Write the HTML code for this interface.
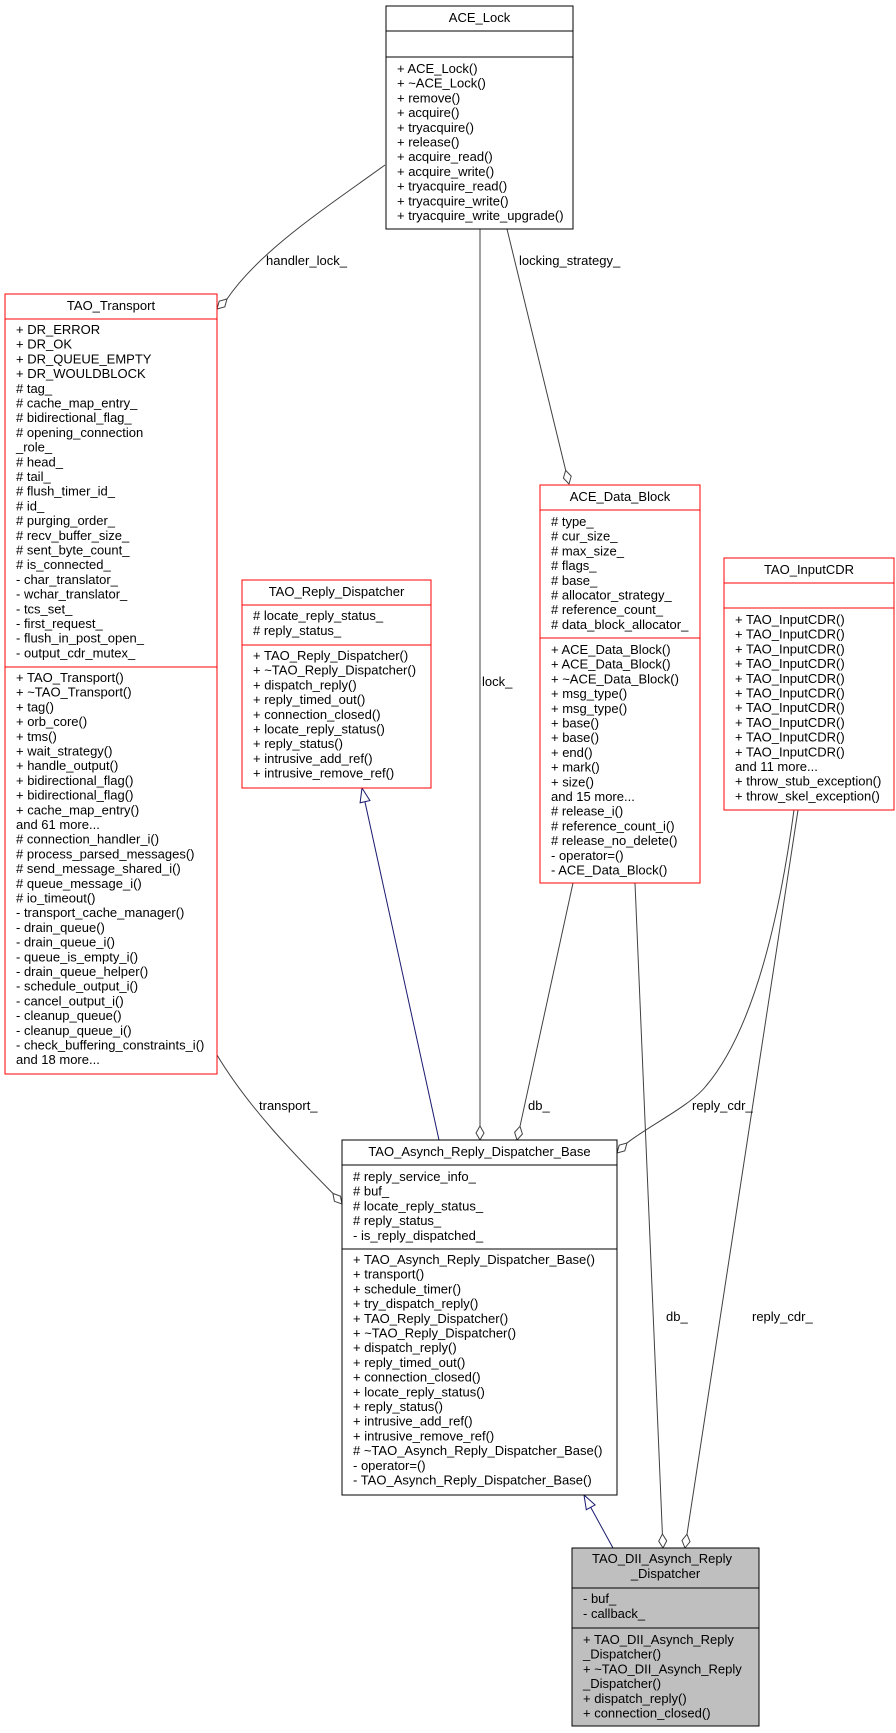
<!DOCTYPE html>
<html><head><meta charset="utf-8"><style>
html,body{margin:0;padding:0;background:#fff;}
svg{display:block;}
text{font-family:"Liberation Sans",sans-serif;font-size:13px;fill:#000;}
.t{text-anchor:middle;}
</style></head><body>
<svg width="896" height="1733" viewBox="0 0 896 1733" xmlns="http://www.w3.org/2000/svg">
<g fill="none" stroke="#404040" stroke-width="1">
<path d="M385,165 C330,205 260,250 227,299"/>
<line x1="480" y1="229" x2="480" y2="1126"/>
<line x1="507" y1="229" x2="565.7" y2="470.4"/>
<line x1="573" y1="883" x2="520" y2="1126.3"/>
<path d="M794,810 C775,950 745,1040 706,1086 C690,1106 650,1125 627,1143"/>
<path d="M217,1055 C250,1110 300,1160 332.9,1193.4"/>
<line x1="635" y1="883" x2="662.4" y2="1534"/>
<line x1="798" y1="810" x2="687" y2="1534.2"/>
</g>
<g fill="#fff" stroke="#404040" stroke-width="1">
<polygon points="217,309 224.8,306.8 227,299 219.2,301.2"/>
<polygon points="480,1140 484,1133 480,1126 476,1133"/>
<polygon points="569,484 571.2,476.2 565.7,470.4 563.4,478.1"/>
<polygon points="517,1140 522.4,1134 520,1126.3 514.6,1132.3"/>
<polygon points="617,1153 624.8,1150.8 627,1143 619.2,1145.2"/>
<polygon points="342,1204 340.4,1196.1 332.9,1193.4 334.4,1201.3"/>
<polygon points="663,1548 666.7,1540.8 662.4,1534 658.7,1541.2"/>
<polygon points="685,1548 690,1541.7 687,1534.2 682,1540.5"/>
</g>
<g stroke="#191970" stroke-width="1">
<line x1="439" y1="1140" x2="365" y2="802"/>
<polygon fill="#fff" points="362,788 369.9,800.6 360.1,802.8"/>
<line x1="613" y1="1548" x2="590.7" y2="1507.3"/>
<polygon fill="#fff" points="584,1495 595.1,1504.9 586.3,1509.7"/>
</g>
<text x="266" y="265">handler_lock_</text>
<text x="519" y="265">locking_strategy_</text>
<text x="482" y="686">lock_</text>
<text x="259" y="1110">transport_</text>
<text x="528" y="1110">db_</text>
<text x="692" y="1110">reply_cdr_</text>
<text x="666" y="1321">db_</text>
<text x="752" y="1321">reply_cdr_</text>

<!-- ACE_Lock -->
<g fill="#fff" stroke="#000"><rect x="386" y="6" width="187" height="223"/><line x1="386" y1="31" x2="573" y2="31"/><line x1="386" y1="57" x2="573" y2="57"/></g>
<text class="t" x="479.5" y="22">ACE_Lock</text>
<text x="397" y="73">+ ACE_Lock()</text>
<text x="397" y="87.7">+ ~ACE_Lock()</text>
<text x="397" y="102.4">+ remove()</text>
<text x="397" y="117.1">+ acquire()</text>
<text x="397" y="131.8">+ tryacquire()</text>
<text x="397" y="146.5">+ release()</text>
<text x="397" y="161.2">+ acquire_read()</text>
<text x="397" y="175.9">+ acquire_write()</text>
<text x="397" y="190.6">+ tryacquire_read()</text>
<text x="397" y="205.3">+ tryacquire_write()</text>
<text x="397" y="220">+ tryacquire_write_upgrade()</text>

<!-- TAO_Transport -->
<g fill="#fff" stroke="#f00"><rect x="5" y="294" width="212" height="780"/><line x1="5" y1="319" x2="217" y2="319"/><line x1="5" y1="667" x2="217" y2="667"/></g>
<text class="t" x="111" y="310">TAO_Transport</text>
<g>
<text x="16" y="334">+ DR_ERROR</text>
<text x="16" y="348.7">+ DR_OK</text>
<text x="16" y="363.4">+ DR_QUEUE_EMPTY</text>
<text x="16" y="378.1">+ DR_WOULDBLOCK</text>
<text x="16" y="392.8"># tag_</text>
<text x="16" y="407.5"># cache_map_entry_</text>
<text x="16" y="422.2"># bidirectional_flag_</text>
<text x="16" y="436.9"># opening_connection</text>
<text x="16" y="451.6">_role_</text>
<text x="16" y="466.3"># head_</text>
<text x="16" y="481"># tail_</text>
<text x="16" y="495.7"># flush_timer_id_</text>
<text x="16" y="510.4"># id_</text>
<text x="16" y="525.1"># purging_order_</text>
<text x="16" y="539.8"># recv_buffer_size_</text>
<text x="16" y="554.5"># sent_byte_count_</text>
<text x="16" y="569.2"># is_connected_</text>
<text x="16" y="583.9">- char_translator_</text>
<text x="16" y="598.6">- wchar_translator_</text>
<text x="16" y="613.3">- tcs_set_</text>
<text x="16" y="628">- first_request_</text>
<text x="16" y="642.7">- flush_in_post_open_</text>
<text x="16" y="657.4">- output_cdr_mutex_</text>
<text x="16" y="682">+ TAO_Transport()</text>
<text x="16" y="696.7">+ ~TAO_Transport()</text>
<text x="16" y="711.4">+ tag()</text>
<text x="16" y="726.1">+ orb_core()</text>
<text x="16" y="740.8">+ tms()</text>
<text x="16" y="755.5">+ wait_strategy()</text>
<text x="16" y="770.2">+ handle_output()</text>
<text x="16" y="784.9">+ bidirectional_flag()</text>
<text x="16" y="799.6">+ bidirectional_flag()</text>
<text x="16" y="814.3">+ cache_map_entry()</text>
<text x="16" y="829">and 61 more...</text>
<text x="16" y="843.7"># connection_handler_i()</text>
<text x="16" y="858.4"># process_parsed_messages()</text>
<text x="16" y="873.1"># send_message_shared_i()</text>
<text x="16" y="887.8"># queue_message_i()</text>
<text x="16" y="902.5"># io_timeout()</text>
<text x="16" y="917.2">- transport_cache_manager()</text>
<text x="16" y="931.9">- drain_queue()</text>
<text x="16" y="946.6">- drain_queue_i()</text>
<text x="16" y="961.3">- queue_is_empty_i()</text>
<text x="16" y="976">- drain_queue_helper()</text>
<text x="16" y="990.7">- schedule_output_i()</text>
<text x="16" y="1005.4">- cancel_output_i()</text>
<text x="16" y="1020.1">- cleanup_queue()</text>
<text x="16" y="1034.8">- cleanup_queue_i()</text>
<text x="16" y="1049.5">- check_buffering_constraints_i()</text>
<text x="16" y="1064.2">and 18 more...</text>
</g>

<!-- TAO_Reply_Dispatcher -->
<g fill="#fff" stroke="#f00"><rect x="242" y="580" width="189" height="208"/><line x1="242" y1="605" x2="431" y2="605"/><line x1="242" y1="645" x2="431" y2="645"/></g>
<text class="t" x="336.5" y="596">TAO_Reply_Dispatcher</text>
<text x="253" y="620"># locate_reply_status_</text>
<text x="253" y="635"># reply_status_</text>
<text x="253" y="660">+ TAO_Reply_Dispatcher()</text>
<text x="253" y="674.7">+ ~TAO_Reply_Dispatcher()</text>
<text x="253" y="689.4">+ dispatch_reply()</text>
<text x="253" y="704.1">+ reply_timed_out()</text>
<text x="253" y="718.8">+ connection_closed()</text>
<text x="253" y="733.5">+ locate_reply_status()</text>
<text x="253" y="748.2">+ reply_status()</text>
<text x="253" y="762.9">+ intrusive_add_ref()</text>
<text x="253" y="777.6">+ intrusive_remove_ref()</text>

<!-- ACE_Data_Block -->
<g fill="#fff" stroke="#f00"><rect x="540" y="485" width="160" height="398"/><line x1="540" y1="510" x2="700" y2="510"/><line x1="540" y1="638" x2="700" y2="638"/></g>
<text class="t" x="620" y="501">ACE_Data_Block</text>
<text x="551" y="526"># type_</text>
<text x="551" y="540.7"># cur_size_</text>
<text x="551" y="555.4"># max_size_</text>
<text x="551" y="570.1"># flags_</text>
<text x="551" y="584.8"># base_</text>
<text x="551" y="599.5"># allocator_strategy_</text>
<text x="551" y="614.2"># reference_count_</text>
<text x="551" y="628.9"># data_block_allocator_</text>
<text x="551" y="654">+ ACE_Data_Block()</text>
<text x="551" y="668.7">+ ACE_Data_Block()</text>
<text x="551" y="683.4">+ ~ACE_Data_Block()</text>
<text x="551" y="698.1">+ msg_type()</text>
<text x="551" y="712.8">+ msg_type()</text>
<text x="551" y="727.5">+ base()</text>
<text x="551" y="742.2">+ base()</text>
<text x="551" y="756.9">+ end()</text>
<text x="551" y="771.6">+ mark()</text>
<text x="551" y="786.3">+ size()</text>
<text x="551" y="801">and 15 more...</text>
<text x="551" y="815.7"># release_i()</text>
<text x="551" y="830.4"># reference_count_i()</text>
<text x="551" y="845.1"># release_no_delete()</text>
<text x="551" y="859.8">- operator=()</text>
<text x="551" y="874.5">- ACE_Data_Block()</text>

<!-- TAO_InputCDR -->
<g fill="#fff" stroke="#f00"><rect x="724" y="558" width="170" height="252"/><line x1="724" y1="583" x2="894" y2="583"/><line x1="724" y1="608" x2="894" y2="608"/></g>
<text class="t" x="809" y="574">TAO_InputCDR</text>
<text x="735" y="624">+ TAO_InputCDR()</text>
<text x="735" y="638.7">+ TAO_InputCDR()</text>
<text x="735" y="653.4">+ TAO_InputCDR()</text>
<text x="735" y="668.1">+ TAO_InputCDR()</text>
<text x="735" y="682.8">+ TAO_InputCDR()</text>
<text x="735" y="697.5">+ TAO_InputCDR()</text>
<text x="735" y="712.2">+ TAO_InputCDR()</text>
<text x="735" y="726.9">+ TAO_InputCDR()</text>
<text x="735" y="741.6">+ TAO_InputCDR()</text>
<text x="735" y="756.3">+ TAO_InputCDR()</text>
<text x="735" y="771">and 11 more...</text>
<text x="735" y="785.7">+ throw_stub_exception()</text>
<text x="735" y="800.4">+ throw_skel_exception()</text>

<!-- TAO_Asynch_Reply_Dispatcher_Base -->
<g fill="#fff" stroke="#000"><rect x="342" y="1140" width="275" height="355"/><line x1="342" y1="1165" x2="617" y2="1165"/><line x1="342" y1="1249" x2="617" y2="1249"/></g>
<text class="t" x="479.5" y="1156">TAO_Asynch_Reply_Dispatcher_Base</text>
<text x="353" y="1181"># reply_service_info_</text>
<text x="353" y="1195.7"># buf_</text>
<text x="353" y="1210.4"># locate_reply_status_</text>
<text x="353" y="1225.1"># reply_status_</text>
<text x="353" y="1239.8">- is_reply_dispatched_</text>
<text x="353" y="1264">+ TAO_Asynch_Reply_Dispatcher_Base()</text>
<text x="353" y="1278.7">+ transport()</text>
<text x="353" y="1293.4">+ schedule_timer()</text>
<text x="353" y="1308.1">+ try_dispatch_reply()</text>
<text x="353" y="1322.8">+ TAO_Reply_Dispatcher()</text>
<text x="353" y="1337.5">+ ~TAO_Reply_Dispatcher()</text>
<text x="353" y="1352.2">+ dispatch_reply()</text>
<text x="353" y="1366.9">+ reply_timed_out()</text>
<text x="353" y="1381.6">+ connection_closed()</text>
<text x="353" y="1396.3">+ locate_reply_status()</text>
<text x="353" y="1411">+ reply_status()</text>
<text x="353" y="1425.7">+ intrusive_add_ref()</text>
<text x="353" y="1440.4">+ intrusive_remove_ref()</text>
<text x="353" y="1455.1"># ~TAO_Asynch_Reply_Dispatcher_Base()</text>
<text x="353" y="1469.8">- operator=()</text>
<text x="353" y="1484.5">- TAO_Asynch_Reply_Dispatcher_Base()</text>

<!-- TAO_DII_Asynch_Reply_Dispatcher -->
<g fill="#bfbfbf" stroke="#000"><rect x="572" y="1548" width="187" height="178"/><line x1="572" y1="1588" x2="759" y2="1588"/><line x1="572" y1="1628" x2="759" y2="1628"/></g>
<text class="t" x="662" y="1563">TAO_DII_Asynch_Reply</text>
<text class="t" x="665.5" y="1578">_Dispatcher</text>
<text x="583" y="1603">- buf_</text>
<text x="583" y="1618">- callback_</text>
<text x="583" y="1644">+ TAO_DII_Asynch_Reply</text>
<text x="583" y="1658.7">_Dispatcher()</text>
<text x="583" y="1673.4">+ ~TAO_DII_Asynch_Reply</text>
<text x="583" y="1688.1">_Dispatcher()</text>
<text x="583" y="1702.8">+ dispatch_reply()</text>
<text x="583" y="1717.5">+ connection_closed()</text>
</svg>
</body></html>
